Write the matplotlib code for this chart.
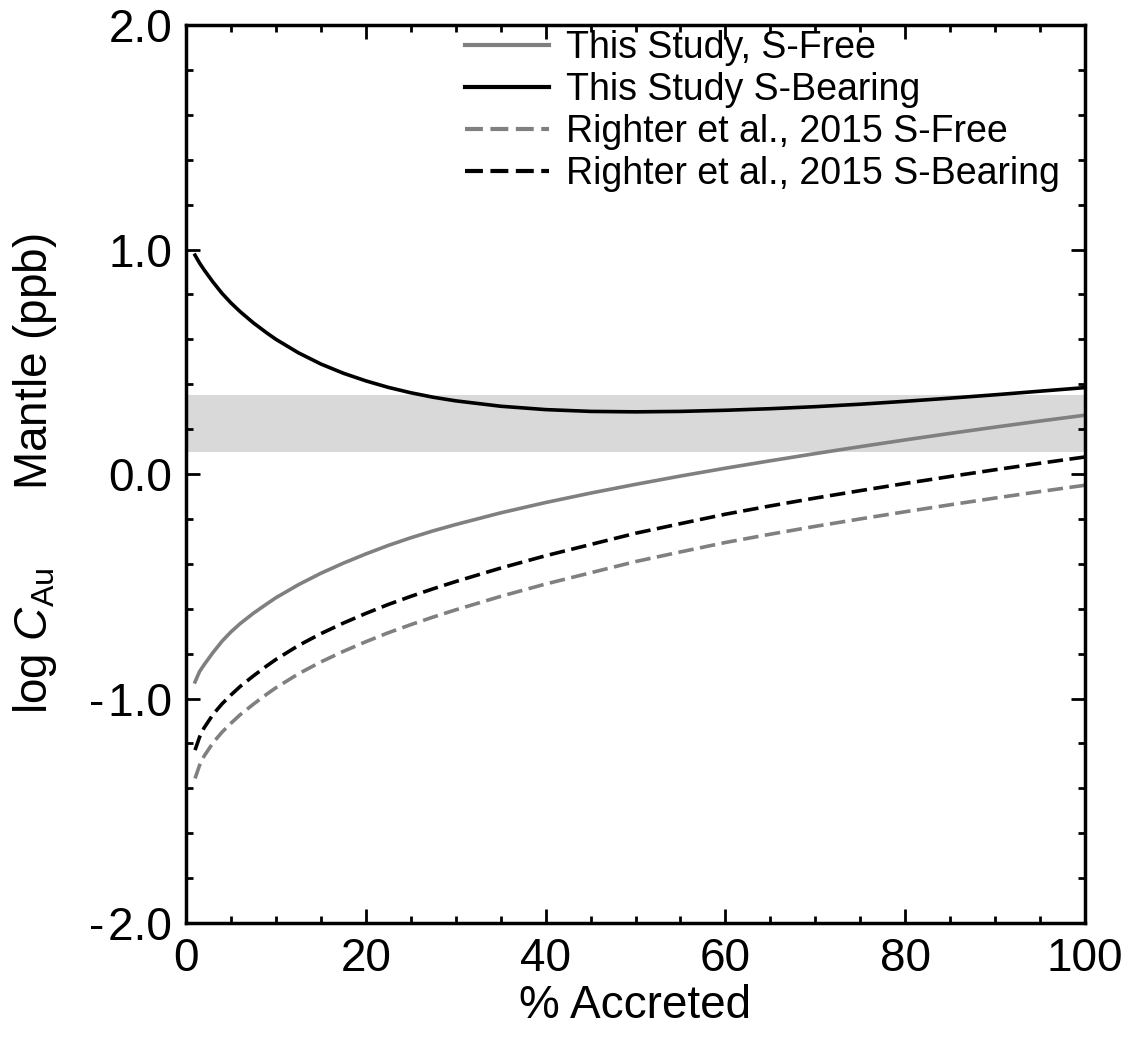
import matplotlib
matplotlib.use('Agg')
import matplotlib.pyplot as plt
from matplotlib.ticker import MultipleLocator

plt.rcParams['font.family'] = ['Liberation Sans', 'DejaVu Sans']
plt.rcParams['mathtext.fontset'] = 'custom'
plt.rcParams['mathtext.rm'] = 'Liberation Sans'
plt.rcParams['mathtext.it'] = 'Liberation Sans:italic'

# % accreted
accreted = [1, 1.5, 2, 3, 4, 5, 6, 7.5, 9, 10, 12.5, 15, 17.5, 20, 22.5, 25,
            27.5, 30, 35, 40, 45, 50, 55, 60, 65, 70, 75, 80, 85, 90, 95, 100]

# log C_Au mantle (ppb)
this_s_free = [-0.926, -0.88, -0.85, -0.795, -0.745, -0.703, -0.667, -0.62,
               -0.578, -0.551, -0.493, -0.442, -0.397, -0.356, -0.318,
               -0.284, -0.253, -0.225, -0.173, -0.127, -0.085, -0.046,
               -0.009, 0.026, 0.059, 0.091, 0.122, 0.152, 0.181, 0.209,
               0.236, 0.262]
this_s_bearing = [0.975, 0.94, 0.91, 0.855, 0.805, 0.762, 0.724, 0.673, 0.628,
                  0.60, 0.54, 0.49, 0.449, 0.415, 0.386, 0.362, 0.342, 0.326,
                  0.302, 0.287, 0.279, 0.277, 0.279, 0.284, 0.291, 0.30,
                  0.311, 0.324, 0.338, 0.353, 0.369, 0.385]
righter_s_free = [-1.356, -1.298, -1.257, -1.197, -1.15, -1.11, -1.073, -1.025,
                  -0.98, -0.952, -0.89, -0.837, -0.79, -0.747, -0.707, -0.671,
                  -0.637, -0.605, -0.545, -0.49, -0.44, -0.39, -0.347, -0.305,
                  -0.268, -0.233, -0.2, -0.168, -0.137, -0.107, -0.078, -0.05]
righter_s_bearing = [-1.23, -1.172, -1.131, -1.071, -1.024, -0.984, -0.947,
                     -0.899, -0.854, -0.826, -0.764, -0.711, -0.664, -0.621,
                     -0.581, -0.545, -0.511, -0.479, -0.419, -0.364, -0.314,
                     -0.264, -0.221, -0.179, -0.142, -0.107, -0.074, -0.042,
                     -0.011, 0.019, 0.048, 0.076]

# primitive mantle range
pum_low, pum_high = 0.1, 0.35

labels = ['This Study, S-Free', 'This Study S-Bearing',
          'Righter et al., 2015 S-Free', 'Righter et al., 2015 S-Bearing']
yticks = [-2.0, -1.0, 0.0, 1.0, 2.0]
ytick_labels = ['-\u200a2.0', '-\u200a1.0', '0.0', '1.0', '2.0']

fig = plt.figure(figsize=(11.31, 10.44), dpi=100)
ax = fig.add_axes([0.1645, 0.1159, 0.7948, 0.8601])

ax.axhspan(pum_low, pum_high, color='#d9d9d9', lw=0, zorder=0)

lw = 2.6
gray = '#808080'
dash = (4.3, 1.8)
ax.plot(accreted, this_s_free, color=gray, lw=lw, label=labels[0])
ax.plot(accreted, this_s_bearing, color='black', lw=lw, label=labels[1])
ax.plot(accreted, righter_s_free, color=gray, lw=lw, dashes=dash, label=labels[2])
ax.plot(accreted, righter_s_bearing, color='black', lw=lw, dashes=dash, label=labels[3])

ax.set_xlim(0, 100)
ax.set_ylim(-2, 2)
ax.xaxis.set_major_locator(MultipleLocator(20))
ax.xaxis.set_minor_locator(MultipleLocator(5))
ax.set_yticks(yticks)
ax.set_yticklabels(ytick_labels)
ax.yaxis.set_minor_locator(MultipleLocator(0.2))

ax.tick_params(which='both', direction='in', top=True, right=True,
               width=2, labelsize=33)
ax.tick_params(which='major', length=10, pad=10)
ax.tick_params(which='minor', length=5)
for s in ax.spines.values():
    s.set_linewidth(2.5)

ax.set_xlabel('% Accreted', fontsize=33, labelpad=2)
ax.set_ylabel(r'log $\mathit{C}_{\mathrm{Au}}$      Mantle (ppb)', fontsize=33, labelpad=22)

leg = ax.legend(loc='upper left', bbox_to_anchor=(0.31, 0.994), frameon=False,
                fontsize=27, handlelength=2.25, handletextpad=0.45,
                labelspacing=0.16, borderpad=0, borderaxespad=0)
for h in leg.get_lines():
    h.set_linewidth(3)

fig.savefig('out.png', dpi=100)
